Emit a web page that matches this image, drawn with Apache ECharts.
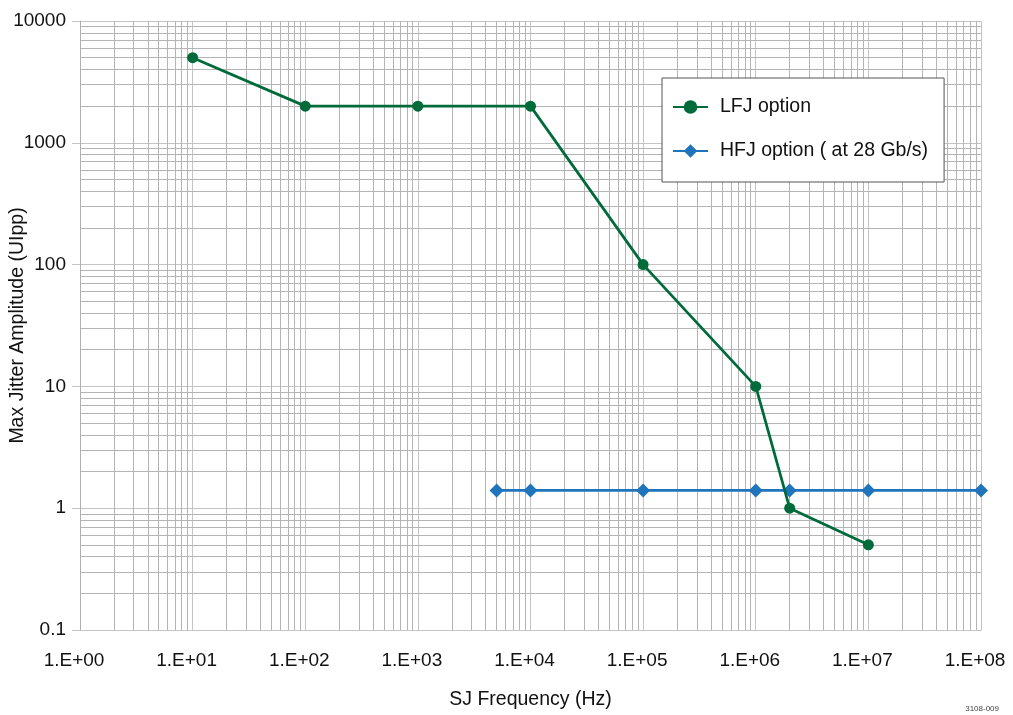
<!DOCTYPE html>
<html>
<head>
<meta charset="utf-8">
<script src="https://cdn.jsdelivr.net/npm/echarts@6/dist/echarts.min.js"></script>
<style>
html,body{margin:0;padding:0;background:#fff;}
#chart{width:1013px;height:715px;}
</style>
</head>
<body>
<div id="chart"></div>
<script>
// ---- data ----
var lfjFreq = [1e1, 1e2, 1e3, 1e4, 1e5, 1e6, 2e6, 1e7];
var lfjAmp  = [5000, 2000, 2000, 2000, 100, 10, 1, 0.5];
var hfjFreq = [5e3, 1e4, 1e5, 1e6, 2e6, 1e7, 1e8];
var hfjAmp  = [1.4, 1.4, 1.4, 1.4, 1.4, 1.4, 1.4];
var xTickLabels = ['1.E+00','1.E+01','1.E+02','1.E+03','1.E+04','1.E+05','1.E+06','1.E+07','1.E+08'];
var yTickLabels = ['0.1','1','10','100','1000','10000'];
var seriesNames = ['LFJ option', 'HFJ option ( at 28 Gb/s)'];

// minor grid lines (axis decoration: 2..9 within each decade)
var xMinor = [], yMinor = [];
for (var d = 0; d < 8; d++) for (var m = 2; m <= 9; m++) xMinor.push(m * Math.pow(10, d));
for (var e = -1; e < 4; e++) for (var k = 2; k <= 9; k++) yMinor.push(+(k * Math.pow(10, e)).toPrecision(3));

function pairs(xs, ys){ return xs.map(function(x,i){ return [x, ys[i]]; }); }

var FONT = 'Liberation Sans, Arial, sans-serif';
var chart = echarts.init(document.getElementById('chart'), null, {renderer:'canvas'});
var minorData = xMinor.map(function(v){ return {xAxis: v}; })
  .concat(yMinor.map(function(v){ return {yAxis: v}; }));

chart.setOption({
  animation: false,
  backgroundColor: '#ffffff',
  grid: { left: 80, right: 32, top: 21, bottom: 85, containLabel: false, outerBoundsMode: 'none' },
  xAxis: {
    type: 'log', logBase: 10, min: 1, max: 1e8, splitNumber: 8,
    name: 'SJ Frequency (Hz)', nameLocation: 'middle', nameGap: 60, nameMoveOverlap: false,
    nameTextStyle: { fontSize: 19.5, color: '#111', fontFamily: FONT },
    axisLine: { show: true, lineStyle: { color: '#c4c4c4', width: 1 } },
    axisTick: { show: false },
    axisLabel: {
      fontSize: 19, color: '#111', fontFamily: FONT, margin: 21, padding: [0, 12, 0, 0],
      formatter: function(v){ var i = Math.round(Math.log10(v)); return xTickLabels[i] || ''; }
    },
    splitLine: { show: true, lineStyle: { color: '#c4c4c4', width: 1 } }
  },
  yAxis: {
    type: 'log', logBase: 10, min: 0.1, max: 10000, splitNumber: 5,
    name: 'Max Jitter Amplitude (UIpp)', nameLocation: 'middle', nameGap: 52, nameRotate: 90,
    nameMoveOverlap: false,
    nameTextStyle: { fontSize: 19.5, color: '#111', fontFamily: FONT },
    axisLine: { show: true, lineStyle: { color: '#b0b0b0', width: 1 } },
    axisTick: { show: true, inside: false, length: 8, lineStyle: { color: '#c4c4c4' } },
    axisLabel: {
      fontSize: 19, color: '#111', fontFamily: FONT, margin: 14,
      formatter: function(v){ var i = Math.round(Math.log10(v)) + 1; return yTickLabels[i] || ''; }
    },
    splitLine: { show: true, lineStyle: { color: '#c4c4c4', width: 1 } }
  },
  legend: {
    data: seriesNames, orient: 'vertical', left: 662, top: 78, z: 20,
    padding: [18, 16, 20, 10], itemGap: 22, itemWidth: 35, itemHeight: 17,
    backgroundColor: '#ffffff', borderColor: '#555555', borderWidth: 1, borderRadius: 0,
    textStyle: { fontSize: 19.5, lineHeight: 22, color: '#111', fontFamily: FONT, padding: [0, 0, 0, 7] }
  },
  graphic: [{
    type: 'text', right: 14, bottom: 2,
    style: { text: '3108-009', fontSize: 8, fill: '#444', fontFamily: FONT }
  }],
  series: [
    {
      type: 'line', name: '_grid', data: [], z: 0, silent: true,
      markLine: {
        z: 0, silent: true, symbol: ['none', 'none'], animation: false,
        label: { show: false },
        lineStyle: { color: '#b4b4b4', width: 1, type: 'solid' },
        emphasis: { disabled: true },
        data: minorData
      }
    },
    {
      type: 'line', name: seriesNames[0], data: pairs(lfjFreq, lfjAmp), z: 4,
      symbol: 'circle', symbolSize: 11,
      itemStyle: { color: '#006b3a' },
      lineStyle: { color: '#006b3a', width: 2.75 }
    },
    {
      type: 'line', name: seriesNames[1], data: pairs(hfjFreq, hfjAmp), z: 3,
      symbol: 'diamond', symbolSize: 14,
      itemStyle: { color: '#1f74bc' },
      lineStyle: { color: '#1f74bc', width: 2.75 }
    }
  ]
});
</script>
</body>
</html>
